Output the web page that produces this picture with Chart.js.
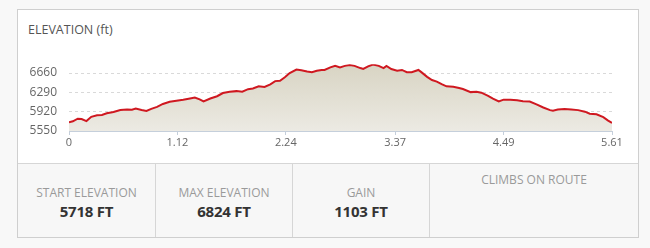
<!DOCTYPE html>
<html>
<head>
<meta charset="utf-8">
<script src="https://cdn.jsdelivr.net/npm/chart.js@4.4.0/dist/chart.umd.min.js"></script>
<style>
  html, body { margin: 0; padding: 0; }
  body { width: 650px; height: 248px; background: #f8f8f8; position: relative; overflow: hidden; font-family: "Open Sans", sans-serif; }
  #panel { position: absolute; left: 17px; top: 9px; width: 622px; height: 229px; box-sizing: border-box; border: 1px solid #cfcfcf; background: #fff; }
  #title { position: absolute; left: 28px; top: 21px; font-size: 12.5px; color: #555; }
  #chart-wrap { position: absolute; left: 18px; top: 45px; width: 620px; height: 110px; }
  #footer { position: absolute; left: 18px; top: 163px; width: 620px; height: 74px; background: #f7f7f7; border-top: 1px solid #d6d6d6; box-sizing: border-box; }
  .cell { position: absolute; top: 0; height: 73px; border-right: 1px solid #d6d6d6; box-sizing: border-box; text-align: center; }
  .cell .lbl { position: absolute; left: 0; right: 0; top: 20px; font-size: 12px; color: #9a9a9a; }
  .cell .val { position: absolute; left: 0; right: 0; top: 37px; font-size: 15px; font-weight: bold; color: #333; letter-spacing: -0.2px; }
</style>
</head>
<body>
<div id="panel"></div>
<div id="title">ELEVATION (ft)</div>
<div id="chart-wrap"><canvas id="elev"></canvas></div>
<div id="footer">
  <div class="cell" style="left:0;width:138px"><div class="lbl">START ELEVATION</div><div class="val">5718 FT</div></div>
  <div class="cell" style="left:138px;width:137px"><div class="lbl">MAX ELEVATION</div><div class="val">6824 FT</div></div>
  <div class="cell" style="left:275px;width:137px"><div class="lbl">GAIN</div><div class="val">1103 FT</div></div>
  <div class="cell" style="left:412px;width:208px;border-right:none"><div class="lbl" style="top:7px">CLIMBS ON ROUTE</div></div>
</div>
<script>
// distance along route (mi)
const distance = [0.00, 0.04, 0.09, 0.13, 0.18, 0.23, 0.29, 0.34, 0.39, 0.46, 0.53, 0.60, 0.65, 0.69, 0.75, 0.80, 0.85, 0.91, 0.97, 1.04,
  1.11, 1.18, 1.25, 1.30, 1.35, 1.39, 1.46, 1.53, 1.59, 1.66, 1.73, 1.79, 1.85, 1.90, 1.96, 2.02, 2.08, 2.13, 2.18, 2.23,
  2.28, 2.35, 2.40, 2.46, 2.51, 2.56, 2.61, 2.64, 2.70, 2.75, 2.80, 2.85, 2.90, 2.95, 3.01, 3.04, 3.09, 3.14, 3.20, 3.25,
  3.28, 3.33, 3.39, 3.44, 3.49, 3.54, 3.61, 3.64, 3.70, 3.75, 3.80, 3.85, 3.90, 3.97, 4.03, 4.07, 4.15, 4.21, 4.26, 4.33,
  4.38, 4.44, 4.49, 4.56, 4.63, 4.69, 4.76, 4.83, 4.90, 4.97, 5.00, 5.05, 5.12, 5.19, 5.26, 5.33, 5.38, 5.45, 5.52, 5.57, 5.61];
// elevation (ft)
const elevation = [5718, 5735, 5785, 5778, 5740, 5822, 5852, 5858, 5889, 5914, 5951, 5963, 5957, 5981, 5951, 5933, 5975, 6012, 6068, 6111,
  6129, 6148, 6173, 6192, 6155, 6118, 6173, 6216, 6277, 6303, 6314, 6303, 6351, 6364, 6407, 6395, 6444, 6506, 6512, 6580,
  6660, 6728, 6716, 6691, 6678, 6703, 6720, 6720, 6769, 6800, 6769, 6798, 6815, 6798, 6756, 6738, 6787, 6824, 6798, 6756,
  6798, 6738, 6707, 6720, 6678, 6678, 6720, 6678, 6588, 6526, 6497, 6448, 6406, 6399, 6375, 6355, 6295, 6300, 6285, 6225,
  6170, 6115, 6150, 6150, 6140, 6120, 6115, 6060, 6000, 5950, 5940, 5960, 5970, 5960, 5950, 5920, 5880, 5870, 5815, 5750, 5705];
const xTicks = [0, 1.12, 2.24, 3.37, 4.49, 5.61];
const yTicks = [5550, 5920, 6290, 6660];

const points = distance.map((d, i) => ({ x: d, y: elevation[i] }));

const ctx = document.getElementById('elev');
new Chart(ctx, {
  type: 'line',
  data: {
    datasets: [{
      data: points,
      borderColor: '#cf1820',
      borderWidth: 2,
      pointRadius: 0,
      tension: 0,
      fill: 'start',
      backgroundColor: function (context) {
        const area = context.chart.chartArea;
        if (!area) return '#e2dfd3';
        const g = context.chart.ctx.createLinearGradient(0, area.top, 0, area.bottom);
        g.addColorStop(0, '#d8d4c3');
        g.addColorStop(1, '#eceae3');
        return g;
      }
    }]
  },
  options: {
    responsive: true,
    maintainAspectRatio: false,
    animation: false,
    layout: { padding: { top: 14, right: 26, bottom: 0, left: 0 } },
    plugins: { legend: { display: false }, tooltip: { enabled: false } },
    scales: {
      x: {
        type: 'linear',
        min: 0,
        max: 5.61,
        afterBuildTicks: function (scale) { scale.ticks = xTicks.map(v => ({ value: v })); },
        afterFit: function (scale) { scale.height = 24; },
        grid: { drawOnChartArea: false, drawTicks: true, tickLength: 4, color: '#c5cfdb' },
        border: { display: true, color: '#c5cfdb', width: 1 },
        ticks: {
          padding: 1,
          color: '#666',
          font: { family: 'Open Sans', size: 11 },
          maxRotation: 0,
          callback: function (v) { return String(v); }
        }
      },
      y: {
        min: 5550,
        max: 6830,
        afterBuildTicks: function (scale) { scale.ticks = yTicks.map(v => ({ value: v })); },
        afterFit: function (scale) { scale.width = 51; },
        grid: { color: '#d9d9d9', drawTicks: false },
        border: { display: false, dash: [3, 3] },
        ticks: {
          padding: 12,
          color: '#666',
          font: { family: 'Open Sans', size: 12 },
          callback: function (v) { return String(v); }
        }
      }
    }
  }
});
</script>
</body>
</html>
